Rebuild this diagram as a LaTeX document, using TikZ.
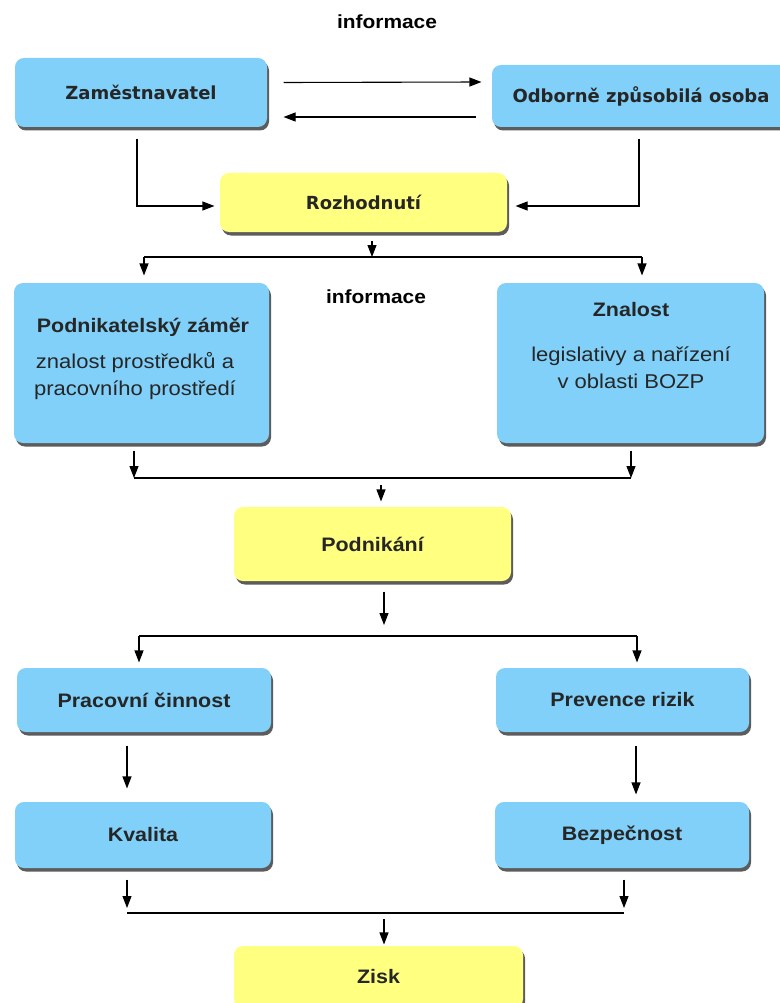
\documentclass[tikz,border=0pt]{standalone}
\usepackage{fontspec}
\setmainfont{Liberation Sans}
\newfontfamily\topfont{DejaVu Sans}
\newfontfamily\lowfont[FakeStretch=1.1]{Liberation Sans}
\usetikzlibrary{arrows.meta,calc,shadows}
\definecolor{boxblue}{RGB}{128,208,250}
\definecolor{boxyellow}{RGB}{255,255,128}
\begin{document}
\begin{tikzpicture}[x=1pt, y=-1pt, line width=1.1pt,
  arr/.style={-{Triangle[length=12pt,width=9pt]}},
  box/.style={rounded corners=9pt, inner sep=0pt, text=black!85,
    drop shadow={shadow xshift=2pt, shadow yshift=-3.5pt, fill=black!75, opacity=.85}},
  bluebox/.style={box, fill=boxblue},
  yellowbox/.style={box, fill=boxyellow},
  toptext/.style={font=\topfont\bfseries\fontsize{18}{22}\selectfont},
  lowtext/.style={font=\lowfont\bfseries\fontsize{19.5}{23}\selectfont},
  subtext/.style={font=\lowfont\fontsize{20}{27}\selectfont, align=center, text=black!85},
  info/.style={font=\lowfont\bfseries\fontsize{19}{22}\selectfont}]
\useasboundingbox (0,0) rectangle (779,1003);
% boxes
\node[bluebox, minimum width=252pt, minimum height=69pt, toptext] (zam) at (141,92.5) {Zaměstnavatel};
\node[bluebox, minimum width=298pt, minimum height=62pt, toptext] (ozo) at (641,96) {Odborně způsobilá osoba};
\node[yellowbox, minimum width=287pt, minimum height=59pt, toptext] (roz) at (363.5,202.5) {Rozhodnutí};
\node[bluebox, minimum width=255pt, minimum height=160pt] (pz) at (141.5,363) {};
\node[bluebox, minimum width=267pt, minimum height=160pt] (zn) at (630.5,363) {};
\node[yellowbox, minimum width=277pt, minimum height=74pt, lowtext] (pod) at (372.5,544) {Podnikání};
\node[bluebox, minimum width=254pt, minimum height=64pt, lowtext] (pc) at (144,700) {Pracovní činnost};
\node[bluebox, minimum width=253pt, minimum height=64pt, lowtext] (pr) at (622.5,700) {Prevence rizik};
\node[bluebox, minimum width=256pt, minimum height=66pt, lowtext] (kv) at (143,835) {Kvalita};
\node[bluebox, minimum width=254pt, minimum height=66pt, lowtext] (bz) at (622,835) {Bezpečnost};
\node[yellowbox, minimum width=289pt, minimum height=62pt, lowtext] (zisk) at (378.5,977) {Zisk};
% texts
\node[lowtext, text=black!85] (pzt) at (143,327) {Podnikatelský záměr};
\node[subtext] (pzs) at (135,376) {znalost prostředků a\\pracovního prostředí};
\node[lowtext, text=black!85] (znt) at (631,310) {Znalost};
\node[subtext] (zns) at (631,367.5) {legislativy a nařízení\\v oblasti BOZP};
\node[info] (inf1) at (387,22) {informace};
\node[info] (inf2) at (376,297) {informace};
% junctions
\coordinate (s1) at (372,257);
\coordinate (s1l) at (144,257);
\coordinate (s1r) at (642,257);
\coordinate (m1) at (381,478);
\coordinate (m1l) at (134,478);
\coordinate (m1r) at (631,478);
\coordinate (s2) at (384,636);
\coordinate (s2l) at (139,636);
\coordinate (s2r) at (637,636);
\coordinate (m2) at (384,913);
\coordinate (m2l) at (127,913);
\coordinate (m2r) at (624,913);
% connectors
\draw[arr] ($(zam.east)+(16,-10)$) -- ($(ozo.west)+(-10,-14)$);
\draw[arr] ($(ozo.west)+(-15,21)$) -- ($(zam.east)+(16,24.5)$);
\draw[arr] ($(zam.south)+(-4,11)$) |- ($(roz.west)+(-5,3.5)$);
\draw[arr] ($(ozo.south)+(-2,11)$) |- ($(roz.east)+(8,3.5)$);
\draw[arr] ($(roz.south)+(8.5,8)$) -- (s1);
\draw (s1l) -- (s1r);
\draw[arr, shorten >=7pt] (s1l) -- (s1l |- pz.north);
\draw[arr, shorten >=7pt] (s1r) -- (s1r |- zn.north);
\draw[arr, shorten <=7pt] (m1l |- pz.south) -- (m1l);
\draw[arr, shorten <=7pt] (m1r |- zn.south) -- (m1r);
\draw (m1l) -- (m1r);
\draw[arr, shorten <=7pt, shorten >=5pt] (m1) -- (m1 |- pod.north);
\draw[arr, shorten <=10pt, shorten >=11pt] (s2 |- pod.south) -- (s2);
\draw (s2l) -- (s2r);
\draw[arr, shorten >=5pt] (s2l) -- (s2l |- pc.north);
\draw[arr, shorten >=5pt] (s2r) -- (s2r |- pr.north);
\draw[arr] ($(pc.south)+(-17,13)$) -- ($(kv.north)+(-16,-13)$);
\draw[arr] ($(pr.south)+(13.5,13)$) -- ($(bz.north)+(14,-7)$);
\draw[arr, shorten <=11pt, shorten >=5pt] (m2l |- kv.south) -- (m2l);
\draw[arr, shorten <=11pt, shorten >=5pt] (m2r |- bz.south) -- (m2r);
\draw (m2l) -- (m2r);
\draw[arr, shorten <=6pt, shorten >=1pt] (m2) -- (m2 |- zisk.north);
\end{tikzpicture}
\end{document}
